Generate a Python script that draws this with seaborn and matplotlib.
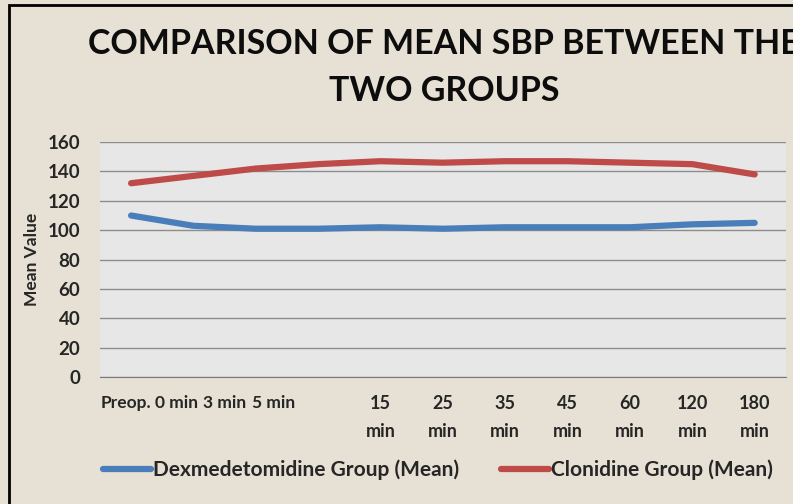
import numpy as np
import pandas as pd
import matplotlib
matplotlib.use("Agg")
import matplotlib.pyplot as plt
import matplotlib.transforms as mtransforms
from matplotlib.patches import Rectangle
import seaborn as sns

# Veriler
time_points = ['Preop.', '0 min', '3 min', '5 min', '15 min', '25 min',
               '35 min', '45 min', '60 min', '120 min', '180 min']
tick_labels = ['Preop.', '0 min', '3 min', '5 min', '15\nmin', '25\nmin',
               '35\nmin', '45\nmin', '60\nmin', '120\nmin', '180\nmin']
dex_mean = [110, 103, 101, 101, 102, 101, 102, 102, 102, 104, 105]
clon_mean = [132, 137, 142, 145, 147, 146, 147, 147, 146, 145, 138]
groups = ['Dexmedetomidine Group (Mean)', 'Clonidine Group (Mean)']

df = pd.DataFrame({
    'time': time_points * 2,
    'value': dex_mean + clon_mean,
    'group': [groups[0]] * len(dex_mean) + [groups[1]] * len(clon_mean),
})

sns.set_style("white")
plt.rcParams['font.family'] = ['Lato', 'DejaVu Sans']

bg = '#e7e0d4'
fig = plt.figure(figsize=(7.93, 5.04), dpi=100, facecolor=bg)
ax = fig.add_axes([0.126, 0.252, 0.865, 0.466])
ax.set_facecolor('#e7e7e7')

sns.lineplot(data=df, x='time', y='value', hue='group', sort=False,
             palette={groups[0]: '#4a7ebb', groups[1]: '#be4b48'},
             linewidth=4.5, solid_capstyle='round', ax=ax)

ax.set_xlim(-0.5, len(time_points) - 0.5)
ax.set_ylim(0, 160)
ax.set_yticks(range(0, 161, 20))
ax.grid(axis='y', color='#8c8c8c', linewidth=1)
ax.set_axisbelow(True)
for s in ['top', 'right', 'left']:
    ax.spines[s].set_visible(False)
ax.spines['bottom'].set_color('#7a7a7a')
ax.tick_params(length=0)

ax.set_xticks(range(len(time_points)))
ax.set_xticklabels(tick_labels, fontsize=13, fontweight='bold', va='top',
                   linespacing=1.75)
ax.tick_params(axis='x', pad=13)
# ilk etiketler referansta sola kaymis
shifts = [-5, -17, -31, -45]
for lab, dx in zip(ax.get_xticklabels()[:4], shifts):
    lab.set_fontsize(12.5)
    lab.set_transform(lab.get_transform() +
                      mtransforms.ScaledTranslation(dx / 100, 0, fig.dpi_scale_trans))
for lab in ax.get_yticklabels():
    lab.set_fontsize(13.5)
    lab.set_fontweight('bold')
ax.tick_params(axis='y', pad=14)
ax.set_xlabel('')
ax.set_ylabel('Mean Value', fontsize=12.5, fontweight='bold', labelpad=6)

ax.legend(loc='center', bbox_to_anchor=(0.493, -0.396), ncol=2, frameon=False,
          handlelength=2.3, handletextpad=0.1, columnspacing=2.0,
          prop={'weight': 'bold', 'size': 15})

fig.text(0.56, 0.866, 'COMPARISON OF MEAN SBP BETWEEN THE\nTWO GROUPS',
         ha='center', va='center', fontsize=24.5, fontweight='bold',
         linespacing=1.55, color='#0d0d0d')

# cerceve (sol ve ust)
fig.add_artist(Rectangle((9 / 793, -0.1), 1.2, 1.1 - 5 / 504,
                         transform=fig.transFigure, fill=False,
                         edgecolor='black', linewidth=2))

fig.savefig('out.png', dpi=100, facecolor=bg)
